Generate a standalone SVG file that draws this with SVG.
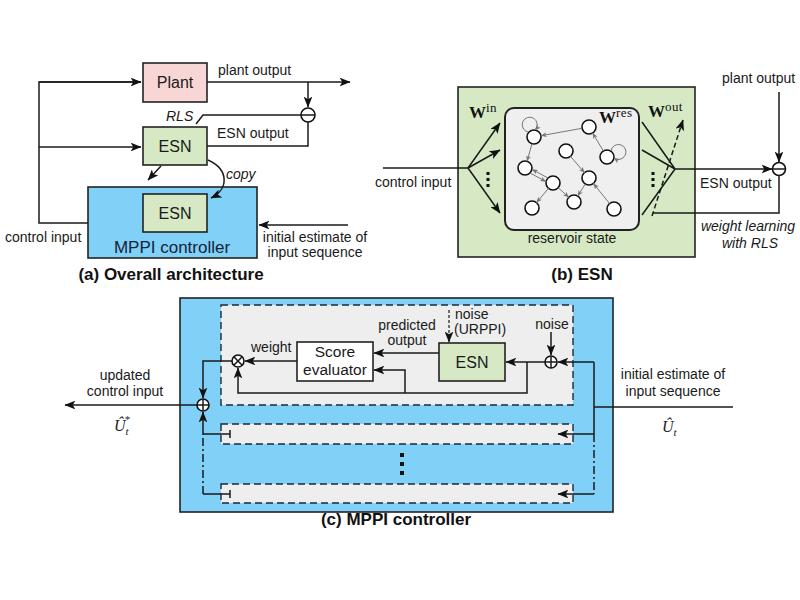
<svg xmlns="http://www.w3.org/2000/svg" width="800" height="600" viewBox="0 0 800 600">
<defs>
<style>
.t{font-family:"Liberation Sans",Arial,sans-serif;font-size:14px;fill:#1a1a1a}
.it{font-style:italic}
.c{text-anchor:middle}
.bt{font-family:"Liberation Sans",Arial,sans-serif;font-size:17px;font-weight:bold;fill:#111;text-anchor:middle}
.box{stroke:#222;stroke-width:1.6}
.green{fill:#d6e9c4}
.blue{fill:#80d0f7}
.pink{fill:#f8d6d6}
.ln{fill:none;stroke:#1a1a1a;stroke-width:1.5}
.ar{marker-end:url(#ah)}
.gr{fill:none;stroke:#777;stroke-width:1;marker-end:url(#ga)}
.node{fill:#fff;stroke:#111;stroke-width:1.6}
.strip{fill:#eeeeee;stroke:#1a2a3a;stroke-width:1.4;stroke-dasharray:7,4}
.dd{stroke-dasharray:8,3,2,3}
.math{font-family:"Liberation Serif","Times New Roman",serif;fill:#222}
.W{font-family:"Liberation Serif","Times New Roman",serif;font-weight:bold;font-size:17px;fill:#111}
.sup{font-weight:normal;font-size:13px;letter-spacing:0.4px}
</style>
<marker id="ah" viewBox="0 0 10 8" refX="9.5" refY="4" markerWidth="11" markerHeight="8.8" markerUnits="userSpaceOnUse" orient="auto"><path d="M0,0 L10,4 L0,8 L2.5,4 z" fill="#111"/></marker>
<marker id="ga" viewBox="0 0 10 8" refX="9.5" refY="4" markerWidth="6" markerHeight="5" markerUnits="userSpaceOnUse" orient="auto"><path d="M0,0 L10,4 L0,8 L2.5,4 z" fill="#777"/></marker>
</defs>
<rect width="800" height="600" fill="#fff"/>

<!-- ===== Panel (a) ===== -->
<g id="a-plant"><rect class="box pink" x="143" y="63" width="64" height="39"/><text class="t c" x="175" y="88" style="font-size:16px">Plant</text></g>
<g id="a-esn"><rect class="box green" x="143" y="127" width="64" height="38"/><text class="t c" x="175" y="152" style="font-size:16px">ESN</text></g>
<g id="a-mppi"><rect class="box blue" x="88" y="187" width="169" height="71"/><text class="t c" x="172" y="253" style="font-size:17px;fill:#14233a">MPPI controller</text></g>
<g id="a-esn2"><rect class="box green" x="143" y="194" width="64" height="38"/><text class="t c" x="175" y="219" style="font-size:16px">ESN</text></g>
<g id="a-sub"><circle class="node" cx="308" cy="115" r="7"/><line class="ln" x1="301" y1="115" x2="315" y2="115"/></g>
<g id="a-conn">
<path class="ln" d="M88,223 H39 V82 H141"/>
<path class="ln ar" d="M39,82 H141"/>
<path class="ln ar" d="M39,147 H141"/>
<path class="ln ar" d="M207,82 H350"/>
<path class="ln ar" d="M308,82 V107"/>
<path class="ln" d="M301,115 H203 L196,124"/>
<path class="ln" d="M207,146 H308 V122"/>
<path class="ln ar" d="M161,166 L148,180"/>
<path class="ln ar" d="M208,160 C230,170 228,190 211,198"/>
<path class="ln ar" d="M348,225 H259"/>
</g>
<g id="a-labels">
<text class="t" x="218" y="75">plant output</text>
<text class="t" x="217" y="138">ESN output</text>
<text class="t it" x="166" y="121">RLS</text>
<text class="t it" x="226" y="179">copy</text>
<text class="t" x="5" y="242">control input</text>
<text class="t c" x="315" y="242">initial estimate of</text>
<text class="t c" x="315" y="257">input sequence</text>
<text class="bt" x="171" y="280">(a) Overall architecture</text>
</g>

<!-- ===== Panel (b) ===== -->
<g id="b-esn"><rect class="box green" x="458" y="87" width="237" height="170"/></g>
<g id="b-reservoir"><rect x="505" y="108" width="134" height="122" rx="9" fill="#efefef" stroke="#222" stroke-width="2"/><text class="t c" x="572" y="243">reservoir state</text></g>
<g id="b-nodes">
<circle class="node" cx="534" cy="137" r="7"/>
<circle class="node" cx="589" cy="127" r="7"/>
<circle class="node" cx="566" cy="151" r="7"/>
<circle class="node" cx="607" cy="157" r="7"/>
<circle class="node" cx="525" cy="168" r="7"/>
<circle class="node" cx="553" cy="183" r="7"/>
<circle class="node" cx="589" cy="178" r="7"/>
<circle class="node" cx="532" cy="208" r="7"/>
<circle class="node" cx="574" cy="202" r="7"/>
<circle class="node" cx="614" cy="209" r="7"/>
</g>
<g id="b-res-edges">
<path class="gr" d="M582,128.3 L541,135.7"/>
<path class="gr" d="M532,143.7 L527,161.3"/>
<path class="gr" d="M570.5,156.3 L584.5,172.7"/>
<path class="gr" d="M603.4,151 L592.6,133"/>
<path class="gr" d="M547.8,177.9 L532.1,169.5"/>
<path class="gr" d="M530.2,173.1 L545.9,181.5"/>
<path class="gr" d="M548.5,188.4 L536.5,202.6"/>
<path class="gr" d="M558.2,187.7 L568.8,197.3"/>
<path class="gr" d="M585.3,183.9 L577.7,196.1"/>
<path class="gr" d="M609.6,203.5 L593.4,183.5"/>
<path class="gr" d="M528,132 A7.5,7.5 0 1 1 535,130"/>
<path class="gr" d="M611,151 A7.5,7.5 0 1 1 614,158"/>
</g>
<g id="b-sub"><circle class="node" cx="779" cy="169" r="6.5"/><line class="ln" x1="772.5" y1="169" x2="785.5" y2="169"/></g>
<g id="b-conn">
<path class="ln" d="M383,168 H468"/>
<path class="ln ar" d="M468,168 L500,123"/>
<path class="ln ar" d="M468,168 L500,150"/>
<path class="ln ar" d="M468,168 L500,213"/>
<path class="ln" d="M642,122 L675,169 M642,150 L675,169 M642,215 L675,169"/>
<path class="ln ar" d="M675,169 H772"/>
<path class="ln ar" d="M779,92 V162"/>
<path class="ln" d="M779,175.5 V213 H653"/>
<path class="ln ar" d="M652,216 L683,120" style="stroke-dasharray:5,3"/>
<rect x="486.5" y="172" width="3" height="3" fill="#111"/>
<rect x="486.5" y="178" width="3" height="3" fill="#111"/>
<rect x="486.5" y="184" width="3" height="3" fill="#111"/>
<rect x="651.5" y="172" width="3" height="3" fill="#111"/>
<rect x="651.5" y="178" width="3" height="3" fill="#111"/>
<rect x="651.5" y="184" width="3" height="3" fill="#111"/>
</g>
<g id="b-labels">
<text class="W" x="469" y="118">W<tspan class="sup" dy="-6">in</tspan></text>
<text class="W" x="599" y="123">W<tspan class="sup" dy="-6">res</tspan></text>
<text class="W" x="648" y="117">W<tspan class="sup" dy="-6">out</tspan></text>
<text class="t" x="375" y="187">control input</text>
<text class="t" x="722" y="83">plant output</text>
<text class="t" x="700" y="188">ESN output</text>
<text class="t it c" x="748" y="231">weight learning</text>
<text class="t it c" x="750" y="248">with RLS</text>
<text class="bt" x="582" y="280">(b) ESN</text>
</g>

<!-- ===== Panel (c) ===== -->
<g id="c-mppi"><rect class="box blue" x="180" y="298" width="433" height="214"/></g>
<g id="c-strips">
<rect class="strip" x="221" y="305" width="352" height="100"/>
<rect class="strip" x="221" y="424" width="352" height="20"/>
<rect class="strip" x="221" y="484" width="352" height="19"/>
<rect x="400" y="453" width="4" height="4" fill="#111"/>
<rect x="400" y="462" width="4" height="4" fill="#111"/>
<rect x="400" y="471" width="4" height="4" fill="#111"/>
</g>
<g id="c-score"><rect class="box" x="297" y="342" width="76" height="39" fill="#fff"/><text class="t c" x="335" y="357" style="font-size:15.5px">Score</text><text class="t c" x="335" y="375" style="font-size:15.5px">evaluator</text></g>
<g id="c-esn"><rect class="box green" x="439" y="343" width="66" height="38"/><text class="t c" x="472" y="368" style="font-size:16px">ESN</text></g>
<g id="c-mul"><circle class="node" cx="238" cy="361" r="6"/><path class="ln" d="M233.8,356.8 L242.2,365.2 M242.2,356.8 L233.8,365.2"/></g>
<g id="c-add1"><circle class="node" cx="551" cy="362" r="6"/><path class="ln" d="M545,362 H557 M551,356 V368"/></g>
<g id="c-add2"><circle class="node" cx="203" cy="405" r="6"/><path class="ln" d="M197,405 H209 M203,399 V411"/></g>
<g id="c-conn">
<path class="ln ar" d="M297,361 H245"/>
<path class="ln ar" d="M439,353 H374"/>
<path class="ln ar" d="M545,362 H506"/>
<path class="ln ar" d="M527,362 V393 H238 V368"/>
<path class="ln ar" d="M405,393 V370 H374"/>
<path class="ln ar" d="M551,332 V355"/>
<path class="ln ar" d="M449,310 V342" style="stroke-dasharray:3,2;stroke-width:1.2"/>
<path class="ln" d="M733,407 H594"/>
<path class="ln" d="M594,362 V434"/>
<path class="ln dd" d="M594,434 V494"/>
<path class="ln ar" d="M594,362 H558"/>
<path class="ln ar" d="M594,434 H558"/>
<path class="ln ar" d="M594,494 H558"/>
<path class="ln ar" d="M232,361 H203 V398"/>
<path class="ln dd" d="M203,494 V434"/>
<path class="ln ar" d="M203,434 V412"/>
<path class="ln" d="M203,434 H230 M230,430 V438 M203,494 H230 M230,490 V498"/>
<path class="ln ar" d="M197,405 H65"/>
</g>
<g id="c-labels">
<text class="t" x="251" y="352">weight</text>
<text class="t c" x="407" y="330">predicted</text>
<text class="t c" x="407" y="345">output</text>
<text class="t" x="455" y="319">noise</text>
<text class="t" x="454" y="334">(URPPI)</text>
<text class="t c" x="552" y="329">noise</text>
<text class="t c" x="125" y="380">updated</text>
<text class="t c" x="125" y="396">control input</text>
<text class="t c" x="673" y="379">initial estimate of</text>
<text class="t c" x="673" y="396">input sequence</text>
<text class="math" x="114" y="431" style="font-size:16px;font-style:italic">Û<tspan dy="4" style="font-size:11px">t</tspan><tspan dx="-4" dy="-12" style="font-size:11px;font-style:normal">*</tspan></text>
<text class="math" x="662" y="432" style="font-size:16px;font-style:italic">Û<tspan dy="4" style="font-size:11px">t</tspan></text>
<text class="bt" x="396" y="525">(c) MPPI controller</text>
</g>
</svg>
